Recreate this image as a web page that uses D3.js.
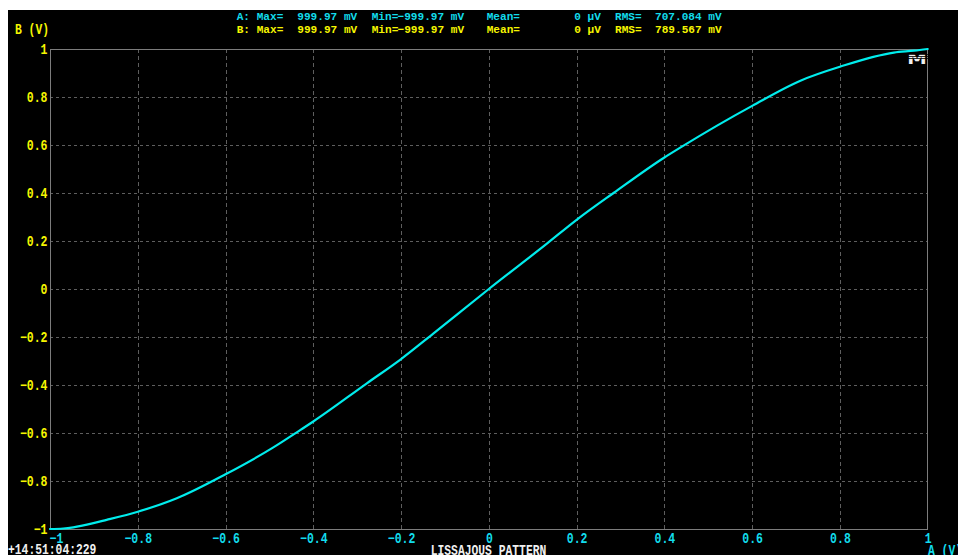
<!DOCTYPE html>
<html>
<head>
<meta charset="utf-8">
<script src="https://cdn.jsdelivr.net/npm/d3@7"></script>
<style>
  html, body { margin: 0; padding: 0; background: #ffffff; overflow: hidden; }
  svg { display: block; }
</style>
</head>
<body>
<svg id="chart" width="958" height="555"></svg>
<script>
// Channel A (horizontal) and channel B (vertical) sample pairs, in volts
const chanA = [-1.000, -0.970, -0.947, -0.924, -0.871, -0.800, -0.711, -0.600, -0.491, -0.430,
               -0.400, -0.278, -0.200, -0.126, 0.000, 0.133, 0.200, 0.285, 0.400, 0.437,
               0.600, 0.710, 0.800, 0.923, 0.969, 1.000];
const chanB = [-1.000, -0.998, -0.993, -0.985, -0.962, -0.928, -0.872, -0.772, -0.660, -0.588,
               -0.552, -0.393, -0.292, -0.185, 0.000, 0.190, 0.288, 0.401, 0.548, 0.590,
               0.763, 0.868, 0.926, 0.985, 0.993, 1.000];

// Axis ticks (same for both channels)
const tickValues = [-1, -0.8, -0.6, -0.4, -0.2, 0, 0.2, 0.4, 0.6, 0.8, 1];

// Measurement readout per channel
const channels  = ["A", "B"];
const statMax   = ["999.97 mV", "999.97 mV"];
const statMin   = ["\u2212999.97 mV", "\u2212999.97 mV"];
const statMean  = ["0 \u00b5V", "0 \u00b5V"];
const statRms   = ["707.084 mV", "789.567 mV"];

const timeStamp = "+14:51:04:229";
const title     = "LISSAJOUS PATTERN";
const xTitle    = "A (V)";
const yTitle    = "B (V)";

// ---- styling / layout ----
const CYAN = "#12dcec", YELLOW = "#f6f600", WHITE = "#f0f0f0";
const FONT = "'Liberation Mono', 'DejaVu Sans Mono', monospace";
const plot = { left: 50, right: 927.7, top: 49, bottom: 529 };

const svg = d3.select("#chart");

// screen background
svg.append("rect").attr("x", 8).attr("y", 10).attr("width", 950).attr("height", 545).attr("fill", "#000");

const x = d3.scaleLinear().domain([-1, 1]).range([plot.left, plot.right]);
const y = d3.scaleLinear().domain([-1, 1]).range([plot.bottom, plot.top]);

const inner = tickValues.filter(v => v > -1 && v < 1);
const fmt = d3.format("~g");

// dashed grid
const gx = svg.append("g").attr("transform", `translate(0,${plot.bottom})`)
  .call(d3.axisBottom(x).tickValues(inner).tickSize(-(plot.bottom - plot.top)).tickFormat(""));
gx.select(".domain").remove();
gx.selectAll("line").attr("stroke", "#5e5e5e").attr("stroke-width", 1).attr("stroke-dasharray", "4,3")
  .attr("shape-rendering", "crispEdges");

const gy = svg.append("g").attr("transform", `translate(${plot.left},0)`)
  .call(d3.axisLeft(y).tickValues(inner).tickSize(-(plot.right - plot.left)).tickFormat(""));
gy.select(".domain").remove();
gy.selectAll("line").attr("stroke", "#5e5e5e").attr("stroke-width", 1).attr("stroke-dasharray", "3,3")
  .attr("shape-rendering", "crispEdges");

// frame
svg.append("rect")
  .attr("x", plot.left).attr("y", plot.top)
  .attr("width", plot.right - plot.left).attr("height", plot.bottom - plot.top)
  .attr("fill", "none").attr("stroke", "#7c7c7c").attr("stroke-width", 1)
  .attr("shape-rendering", "crispEdges");

// tick labels (tall, narrow glyphs)
const xl = svg.append("g").attr("transform", `translate(0,${plot.bottom})`)
  .call(d3.axisBottom(x).tickValues(tickValues).tickSize(0).tickPadding(0).tickFormat(fmt));
xl.select(".domain").remove();
xl.selectAll("text")
  .attr("font-family", FONT).attr("font-size", 14).attr("font-weight", "bold")
  .attr("fill", CYAN).attr("dy", null).attr("y", 14)
  .attr("text-anchor", d => d === -1 ? "start" : "middle")
  .attr("x", d => d === -1 ? -1 : 0)
  .each(function(d) { const t = fmt(d); d3.select(this).attr("textLength", t.length * 6.9).attr("lengthAdjust", "spacingAndGlyphs"); });

const yl = svg.append("g").attr("transform", `translate(${plot.left},0)`)
  .call(d3.axisLeft(y).tickValues(tickValues).tickSize(0).tickPadding(2.5).tickFormat(fmt));
yl.select(".domain").remove();
yl.selectAll("text")
  .attr("font-family", FONT).attr("font-size", 14).attr("font-weight", "bold")
  .attr("fill", YELLOW).attr("dy", "0.34em")
  .each(function(d) { const t = fmt(d); d3.select(this).attr("textLength", t.length * 6.9).attr("lengthAdjust", "spacingAndGlyphs"); });

// Lissajous trace
const pts = chanA.map((a, i) => [a, chanB[i]]);
svg.append("path")
  .datum(pts)
  .attr("d", d3.line().curve(d3.curveMonotoneX).x(d => x(d[0])).y(d => y(d[1])))
  .attr("fill", "none").attr("stroke", "#00ecec").attr("stroke-width", 2.2)
  .attr("stroke-linejoin", "round").attr("stroke-linecap", "round");

// marker glyph in the corner
const mk = svg.append("g");
mk.append("text").attr("x", 907.5).attr("y", 63.6)
  .attr("font-family", FONT).attr("font-size", 14).attr("font-weight", "bold").attr("fill", WHITE)
  .attr("textLength", 19).attr("lengthAdjust", "spacingAndGlyphs").text("M");
[54.5, 56.5, 58.5].forEach(yy => mk.append("line").attr("x1", 906).attr("x2", 928).attr("y1", yy).attr("y2", yy)
  .attr("stroke", "#000").attr("stroke-width", 0.8));

// measurement readout
const hdr = svg.append("g").attr("font-family", FONT).attr("font-size", 11.1).attr("font-weight", "bold")
  .attr("xml:space", "preserve");
const cols = [
  { x: 236.7, v: i => channels[i] + ":" },
  { x: 256.7, v: () => "Max=" },
  { x: 297.3, v: i => statMax[i] },
  { x: 371.7, v: () => "Min=" },
  { x: 397.5, v: i => statMin[i] },
  { x: 486.7, v: () => "Mean=" },
  { x: 574.3, v: i => statMean[i] },
  { x: 615.0, v: () => "RMS=" },
  { x: 655.0, v: i => statRms[i] }
];
channels.forEach((ch, i) => {
  const row = hdr.append("g").attr("fill", i === 0 ? CYAN : YELLOW);
  cols.forEach(c => row.append("text").attr("x", c.x).attr("y", i === 0 ? 20.2 : 33.4).text(c.v(i)));
});

// axis titles and footer
const big = (t, xx, yy, fill, anchor) => svg.append("text")
  .attr("x", xx).attr("y", yy).attr("text-anchor", anchor || "start")
  .attr("font-family", FONT).attr("font-size", 14).attr("font-weight", "bold").attr("fill", fill)
  .attr("xml:space", "preserve")
  .attr("textLength", t.length * 6.8).attr("lengthAdjust", "spacingAndGlyphs")
  .text(t);

big(yTitle, 15, 34, YELLOW);
big(xTitle, 928, 554.5, CYAN);
big(timeStamp, 8, 553.5, WHITE);
big(title, 488.5, 555, WHITE, "middle");
</script>
</body>
</html>
